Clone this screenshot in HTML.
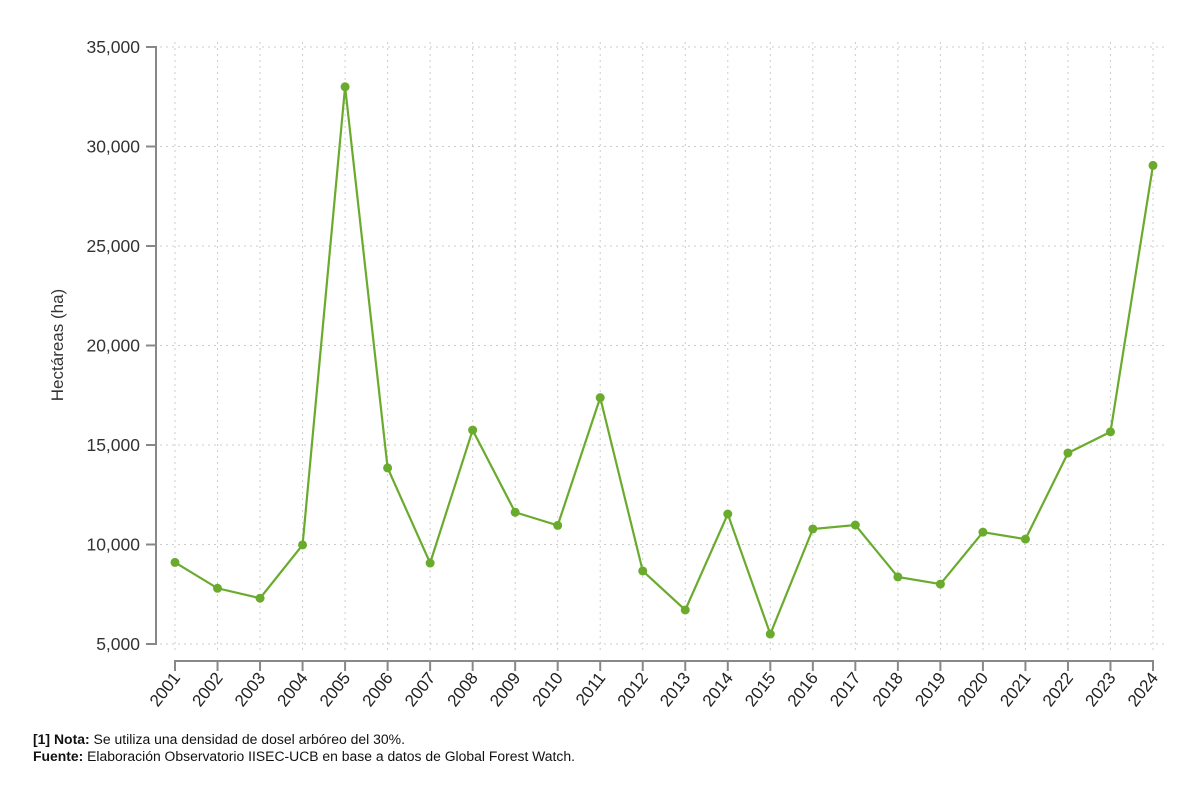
<!DOCTYPE html>
<html><head><meta charset="utf-8"><style>
body{margin:0;background:#fff;font-family:"Liberation Sans",sans-serif}
</style></head><body>
<svg id="chart" width="1200" height="799" xmlns="http://www.w3.org/2000/svg">
<g id="grid"></g>
<g id="axes"></g>
<g id="series"></g>
<text transform="translate(63,345) rotate(-90)" text-anchor="middle" font-size="17" fill="#333">Hectáreas (ha)</text>
<text x="33" y="744" font-size="13.5" fill="#111" textLength="372" lengthAdjust="spacingAndGlyphs"><tspan font-weight="bold">[1] Nota:</tspan> Se utiliza una densidad de dosel arbóreo del 30%.</text>
<text x="33" y="761" font-size="13.5" fill="#111" textLength="542" lengthAdjust="spacingAndGlyphs"><tspan font-weight="bold">Fuente:</tspan> Elaboración Observatorio IISEC-UCB en base a datos de Global Forest Watch.</text>
</svg>
<script>
const years=["2001","2002","2003","2004","2005","2006","2007","2008","2009","2010","2011","2012","2013","2014","2015","2016","2017","2018","2019","2020","2021","2022","2023","2024"];
const values=[9100,7800,7300,9980,33000,13850,9070,15750,11620,10960,17380,8670,6710,11530,5500,10780,10980,8370,8010,10620,10270,14600,15660,29050];
const yTicks=[5000,10000,15000,20000,25000,30000,35000];
const yTickLabels=["5,000","10,000","15,000","20,000","25,000","30,000","35,000"];
const NS="http://www.w3.org/2000/svg";
const x0=175,x1=1153,y0=644,y1=47;
const xs=i=>x0+(x1-x0)*i/(years.length-1);
const ys=v=>y0-(v-5000)/30000*(y0-y1);
function mk(t,a,p){const e=document.createElementNS(NS,t);for(const k in a)e.setAttribute(k,a[k]);p.appendChild(e);return e;}
const grid=document.getElementById('grid'),axes=document.getElementById('axes'),ser=document.getElementById('series');
yTicks.forEach((v,i)=>{
 const y=ys(v);
 const g=mk('line',{x1:160,x2:1168,y1:y,y2:y,stroke:'#ccc','stroke-dasharray':'2,4'},grid);
 
 
 const t=mk('line',{x1:146,x2:156,y1:y,y2:y,stroke:'#888','stroke-width':2},axes);
 
 
 const l=mk('text',{x:140,y:y+6,'text-anchor':'end','font-size':17.5,fill:'#333'},axes);
 l.textContent=yTickLabels[i];
 
 
});
years.forEach((yr,i)=>{
 const x=xs(i);
 const g=mk('line',{x1:x,x2:x,y1:42,y2:652,stroke:'#ccc','stroke-dasharray':'2,4'},grid);
 
 
 const t=mk('line',{x1:x,x2:x,y1:661,y2:671,stroke:'#888','stroke-width':2},axes);
 
 
 const l=mk('text',{x:0,y:0,'text-anchor':'end','font-size':17,fill:'#222',transform:`translate(${x+6},${678}) rotate(-52)`},axes);
 l.textContent=yr;
 
 
});
const ya=mk('line',{x1:156,x2:156,y1:46,y2:645,stroke:'#888','stroke-width':2},axes);


const xa=mk('line',{x1:174,x2:1154,y1:661,y2:661,stroke:'#888','stroke-width':2},axes);


const pl=mk('polyline',{points:values.map((v,i)=>xs(i)+','+ys(v)).join(' '),fill:'none',stroke:'#6aab2e','stroke-width':2.2},ser);


values.forEach((v,i)=>{
 const c=mk('circle',{cx:xs(i),cy:ys(v),r:4.5,fill:'#6aab2e'},ser);
 
 
});
</script>
</body></html>
